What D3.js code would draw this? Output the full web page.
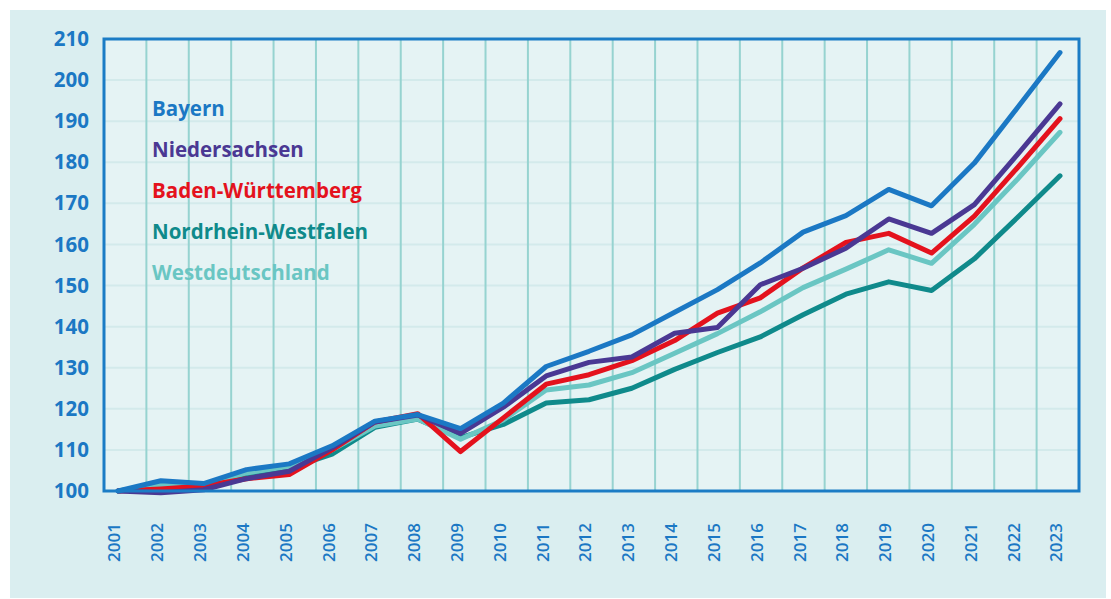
<!DOCTYPE html>
<html>
<head>
<meta charset="utf-8">
<script src="https://cdn.jsdelivr.net/npm/d3@7"></script>
<style>
  body { margin: 0; background: #ffffff; }
  svg { display: block; font-family: "Open Sans", "Noto Sans", sans-serif; }
</style>
</head>
<body>
<svg></svg>
<script>
let years = d3.range(2001, 2024)
let yTicks = [100, 110, 120, 130, 140, 150, 160, 170, 180, 190, 200, 210]

let seriesNames = ['Bayern', 'Niedersachsen', 'Baden-Württemberg', 'Nordrhein-Westfalen', 'Westdeutschland']
let seriesColors = ['#1b78c4', '#4a3893', '#e4121d', '#0f8a8b', '#6ac6c3']

let bayern = [100, 102.5, 101.8, 105.2, 106.6, 111, 117, 118.6, 115.2, 121.4, 130.3, 134, 138, 143.5, 149, 155.5, 163, 167, 173.4, 169.4, 179.8, 193.2, 206.7]
let niedersachsen = [100, 99.6, 100.3, 103, 104.8, 110.5, 116.8, 118.5, 114, 120.4, 128, 131.3, 132.6, 138.4, 139.8, 150.2, 154.2, 159.1, 166.2, 162.7, 169.7, 181.8, 194.2]
let badenWuerttemberg = [100, 100.5, 101.2, 103, 104, 110, 116.8, 118.8, 109.6, 117.8, 126, 128.3, 131.7, 136.6, 143.3, 147, 154.3, 160.5, 162.7, 157.9, 166.9, 178.6, 190.6]
let nrw = [100, 101.5, 101.5, 104, 105.5, 109, 115.5, 117.5, 113, 116.2, 121.4, 122.2, 125, 129.6, 133.7, 137.5, 142.9, 147.9, 150.9, 148.8, 156.5, 166.5, 176.7]
let westdeutschland = [100, 101.5, 101.6, 104.4, 106, 110, 115.8, 117.5, 112.6, 117.3, 124.6, 125.8, 128.8, 133.5, 138.3, 143.6, 149.5, 154, 158.7, 155.4, 164.9, 175.8, 187.3]

let seriesValues = [bayern, niedersachsen, badenWuerttemberg, nrw, westdeutschland]
let drawOrder = [3, 4, 2, 1, 0]

let width = 1111
let height = 599
let frame = { left: 104, top: 39, right: 1079, bottom: 491 }

let svg = d3.select('svg').attr('width', width).attr('height', height)

let xScale = d3.scalePoint().domain(years).range([118, 1060])
let yScale = d3.scaleLinear().domain([100, 210]).range([frame.bottom, frame.top])
let colScale = d3.scaleLinear().domain([0, years.length]).range([frame.left, frame.right])

// outer panel + plot area
svg.append('rect')
  .attr('x', 10).attr('y', 10)
  .attr('width', 1096).attr('height', 588)
  .attr('fill', '#daeef0')

svg.append('rect')
  .attr('x', frame.left).attr('y', frame.top)
  .attr('width', frame.right - frame.left).attr('height', frame.bottom - frame.top)
  .attr('fill', '#e5f3f4')

// horizontal grid
svg.append('g')
  .selectAll('line')
  .data(yTicks.slice(1, -1))
  .enter()
  .append('line')
  .attr('x1', frame.left).attr('x2', frame.right)
  .attr('y1', d => yScale(d)).attr('y2', d => yScale(d))
  .attr('stroke', '#d3eaeb')
  .attr('stroke-width', 2)

// vertical grid
svg.append('g')
  .selectAll('line')
  .data(d3.range(1, years.length))
  .enter()
  .append('line')
  .attr('x1', d => colScale(d)).attr('x2', d => colScale(d))
  .attr('y1', frame.top).attr('y2', frame.bottom)
  .attr('stroke', '#96d3d0')
  .attr('stroke-width', 2)

// lines
let line = d3.line()
  .x((d, i) => xScale(years[i]))
  .y(d => yScale(d))

svg.append('g')
  .selectAll('path')
  .data(drawOrder)
  .enter()
  .append('path')
  .attr('d', k => line(seriesValues[k]))
  .attr('fill', 'none')
  .attr('stroke', k => seriesColors[k])
  .attr('stroke-width', 5)
  .attr('stroke-linejoin', 'round')
  .attr('stroke-linecap', 'round')

// frame
svg.append('rect')
  .attr('x', frame.left).attr('y', frame.top)
  .attr('width', frame.right - frame.left).attr('height', frame.bottom - frame.top)
  .attr('fill', 'none')
  .attr('stroke', '#1b7cc5')
  .attr('stroke-width', 3)

// y axis
let yAxis = d3.axisLeft(yScale).tickValues(yTicks).tickSize(0).tickPadding(15)
let gy = svg.append('g').attr('transform', `translate(${frame.left},0)`).call(yAxis)
gy.select('.domain').remove()
gy.selectAll('text')
  .attr('fill', '#1b78c4')
  .attr('font-size', 20.5)
  .attr('font-weight', 700)
  .attr('font-family', '"Open Sans", "Noto Sans", sans-serif')

// x axis
let xAxis = d3.axisBottom(xScale).tickSize(0)
let gx = svg.append('g').attr('transform', `translate(0,${frame.bottom})`).call(xAxis)
gx.select('.domain').remove()
gx.selectAll('text')
  .attr('transform', 'rotate(-90)')
  .attr('text-anchor', 'end')
  .attr('x', -32)
  .attr('y', -4)
  .attr('dy', '0.35em')
  .attr('fill', '#1b78c4')
  .attr('font-size', 17)
  .attr('font-weight', 600)
  .attr('font-family', '"Open Sans", "Noto Sans", sans-serif')

// legend
svg.append('g')
  .selectAll('text')
  .data(seriesNames)
  .enter()
  .append('text')
  .attr('x', 152)
  .attr('y', (d, i) => 109 + i * 41)
  .attr('dy', '0.35em')
  .attr('fill', (d, i) => seriesColors[i])
  .attr('font-size', 20.5)
  .attr('font-weight', 700)
  .text(d => d)
</script>
</body>
</html>
